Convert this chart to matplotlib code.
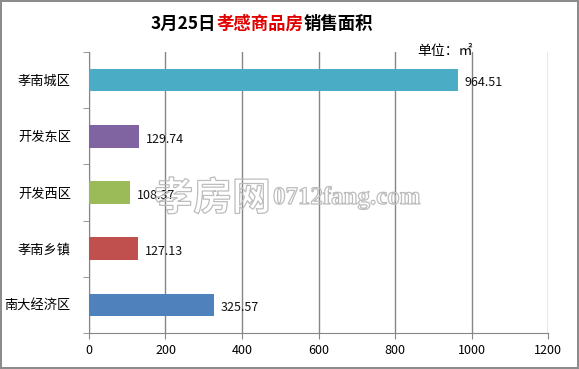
import matplotlib.pyplot as plt
from matplotlib.offsetbox import TextArea, HPacker, AnnotationBbox
from matplotlib.textpath import TextPath
from matplotlib.font_manager import FontProperties
from matplotlib.patches import PathPatch
from matplotlib.transforms import Affine2D

plt.rcParams['font.family'] = ['Noto Sans CJK SC', 'DejaVu Sans']

regions = ['南大经济区', '孝南乡镇', '开发西区', '开发东区', '孝南城区']
areas = [325.57, 127.13, 108.37, 129.74, 964.51]
colors = ['#4F81BD', '#C0504D', '#9BBB59', '#8064A2', '#4BACC6']
xticks = [0, 200, 400, 600, 800, 1000, 1200]

fig = plt.figure(figsize=(5.79, 3.69), dpi=100)
fig.patch.set_edgecolor('#8c8c8c')
fig.patch.set_linewidth(1.5)
ax = fig.add_axes([0.1537, 0.0976, 0.7928, 0.7614])

ypos = list(range(len(regions)))
ax.barh(ypos, areas, height=0.4, color=colors, zorder=3)
for y, v in zip(ypos, areas):
    ax.text(v + 18, y - 0.05, f'{v:.2f}', va='center', ha='left', fontsize=9,
            color='#111111', zorder=4)

ax.set_xlim(0, 1200)
ax.set_ylim(-0.5, 4.5)
ax.set_xticks(xticks)
ax.set_xticklabels([str(t) for t in xticks], fontsize=9)
ax.xaxis.grid(True, color='#868686', linewidth=1, zorder=0)
ax.tick_params(axis='x', length=4, color='#868686', pad=4)

# category labels at centres, tick marks at boundaries
ax.set_yticks(ypos)
ax.set_yticklabels(regions, fontsize=9.5)
ax.tick_params(axis='y', length=0, pad=13)
ax.set_yticks([i + 0.5 for i in range(-1, len(regions))], minor=True)
ax.tick_params(axis='y', which='minor', length=4, color='#868686')

for s in ['top', 'right']:
    ax.spines[s].set_visible(False)
for s in ['left', 'bottom']:
    ax.spines[s].set_color('#868686')

# title with red middle part
parts = [TextArea('3月25日', textprops=dict(fontsize=12.5, fontweight='bold', color='black')),
         TextArea('孝感商品房', textprops=dict(fontsize=12.5, fontweight='bold', color='#e00000')),
         TextArea('销售面积', textprops=dict(fontsize=12.5, fontweight='bold', color='black'))]
box = HPacker(children=parts, align='baseline', pad=0, sep=0)
fig.add_artist(AnnotationBbox(box, (0.452, 0.935), xycoords='figure fraction',
                              frameon=False, box_alignment=(0.5, 0.5)))

fig.text(0.769, 0.862, '单位：㎡', fontsize=10, ha='center', va='center')


# watermark: outlined glyphs only (pixel positions from top-left)
def outline_text(s, family, left, right, baseline):
    tp = TextPath((0, 0), s, size=10, prop=FontProperties(family=family, weight='bold'))
    ext = tp.get_extents()
    k = (right - left) / ext.width
    tr = (Affine2D().translate(-ext.x0, 0).scale(k / 100)
          .translate(left / 100, (369 - baseline) / 100) + fig.dpi_scale_trans)
    fig.add_artist(PathPatch(tp, transform=tr, facecolor='none',
                             edgecolor='#bdbdbd', linewidth=0.9, zorder=5))


outline_text('孝房网', 'Noto Sans CJK SC', 155, 268, 210)
outline_text('0712fang.com', 'Liberation Serif', 274, 420, 204)

fig.savefig('out.png', dpi=100)
